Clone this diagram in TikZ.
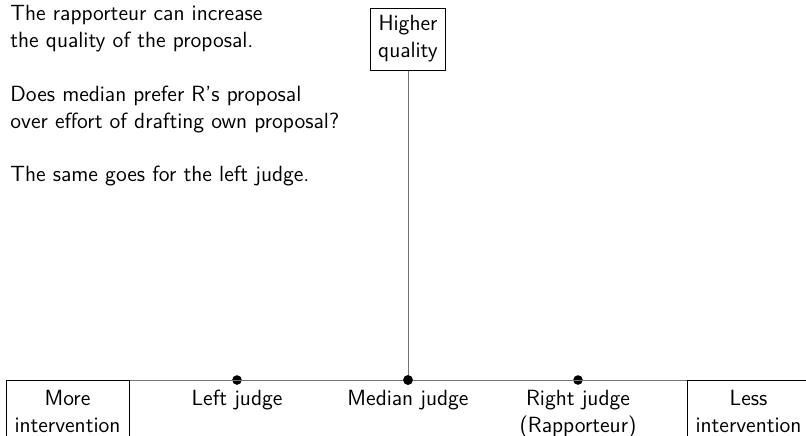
\documentclass[tikz,border=0pt]{standalone}
\usepackage{tikz}
\begin{document}
\begin{tikzpicture}[x=0.5pt,y=-0.5pt,
  every node/.style={font=\sffamily\fontsize{11}{13.4}\selectfont, inner sep=0pt},
  txt/.style={align=left, anchor=north west},
  lbl/.style={align=center, anchor=north},
  boxed/.style={draw=black, line width=0.5pt, align=center, inner sep=0pt},
  axisline/.style={draw=black!55, line width=0.5pt},
  judge/.style={circle, fill=black, minimum size=4.8pt, inner sep=0pt}]
\useasboundingbox (0,0) rectangle (806,435);
\clip (0,0) rectangle (806,435);

% explanatory text
\node[txt] (t1) at (10,5) {The rapporteur can increase\\the quality of the proposal.};
\node[txt] (t2) at (10,86) {Does median prefer R's proposal\\over effort of drafting own proposal?};
\node[txt] (t3) at (10,166) {The same goes for the left judge.};

% quality axis
\node[boxed, minimum width=37.5pt, minimum height=31pt] (hq) at (408,39) {Higher\\quality};

% judges
\node[judge] (lj) at (237,380) {};
\node[judge] (mj) at (408,380) {};
\node[judge] (rj) at (578,380) {};

% end boxes (cut at bottom)
\node[boxed, minimum width=61.5pt, minimum height=40pt, anchor=north west] (more) at (6,380) {};
\node[boxed, minimum width=61.5pt, minimum height=40pt, anchor=north west] (less) at (687,380) {};
\node[lbl] at (67.5,390) {More\\intervention};
\node[lbl] at (748.5,390) {Less\\intervention};

% axis
\draw[axisline] (more.north east) -- (less.north west);
\draw[axisline] (hq.south) -- (mj.center);
\node[judge] at (mj) {};

% labels
\node[lbl] (ljl) at (237,390) {Left judge};
\node[lbl] (mjl) at (408,390) {Median judge};
\node[lbl] (rjl) at (578,390) {Right judge\\(Rapporteur)};
\end{tikzpicture}
\end{document}
